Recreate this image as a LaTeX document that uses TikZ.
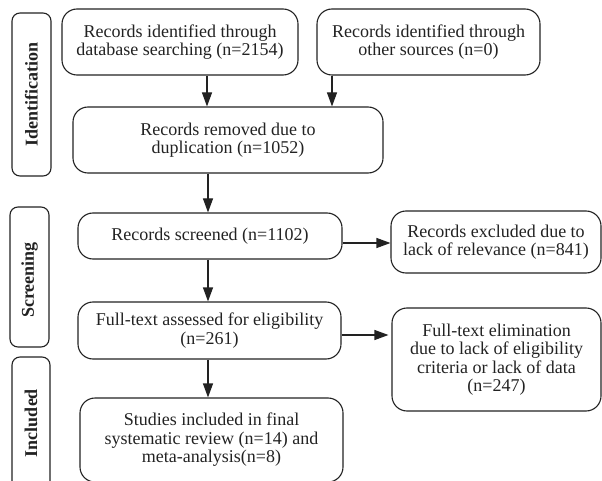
\documentclass[tikz,border=0pt]{standalone}
\usepackage{fontspec}
\setmainfont{Liberation Serif}
\usetikzlibrary{arrows.meta}
\definecolor{ink}{HTML}{222222}
\tikzset{
  box/.style={draw=ink, line width=1.1pt, rounded corners=15pt, align=center, text=ink,
    inner sep=2pt, font=\fontsize{18}{18.5}\selectfont},
  side/.style={draw=ink, line width=1.1pt, rounded corners=8pt, inner sep=0pt},
  sidelabel/.style={rotate=90, text=ink, font=\fontsize{18}{18}\selectfont\bfseries},
  arr/.style={draw=ink, line width=1.1pt, -{Triangle[length=14pt,width=10pt]}}
}
\begin{document}
\begin{tikzpicture}[x=1pt,y=-1pt]
\useasboundingbox (0,0) rectangle (602,481);
\clip (0,0) rectangle (602,481);
% side boxes
\node[side, minimum width=39pt, minimum height=163pt] (idside) at (31.5,94.5) {};
\node[sidelabel] (idlab) at (idside.center) {Identification};
\node[side, minimum width=39pt, minimum height=140pt] (scside) at (29.5,277) {};
\node[sidelabel] (sclab) at (29.5,280) {Screening};
\node[side, minimum width=38pt, minimum height=150pt] (inside) at (31,432) {};
\node[sidelabel] (inlab) at (31,423) {Included};
% main boxes
\node[box, minimum width=236pt, minimum height=66pt] (db) at (180,42)
  {Records identified through\\database searching (n=2154)};
\node[box, minimum width=223pt, minimum height=66pt] (other) at (428.5,42)
  {Records identified through\\other sources (n=0)};
\node[box, minimum width=310pt, minimum height=66pt] (dup) at (228,140)
  {Records removed due to\\duplication (n=1052)};
\node[box, minimum width=264pt, minimum height=46pt] (scr) at (210,236)
  {Records screened (n=1102)};
\node[box, minimum width=210pt, minimum height=62pt] (ex1) at (496,242)
  {Records excluded due to\\lack of relevance (n=841)};
\node[box, minimum width=263pt, minimum height=57pt] (full) at (209.5,330.5)
  {Full-text assessed for eligibility\\(n=261)};
\node[box, minimum width=209pt, minimum height=103pt] (ex2) at (496.5,359.5)
  {Full-text elimination\\due to lack of eligibility\\criteria or lack of data\\(n=247)};
\node[box, minimum width=263pt, minimum height=84pt] (stud) at (211.5,440)
  {Studies included in final\\systematic review (n=14) and\\meta-analysis(n=8)};
% arrow guides
\coordinate (xa) at (207,0);
\coordinate (xb) at (332,0);
\coordinate (xc) at (208,0);
\coordinate (ya) at (0,243);
\coordinate (yb) at (0,335);
\draw[arr] (db.south -| xa) -- (dup.north -| xa);
\draw[arr] (other.south -| xb) -- (dup.north -| xb);
\draw[arr] (dup.south -| xc) -- (scr.north -| xc);
\draw[arr] (scr.south -| xc) -- (full.north -| xc);
\draw[arr] (full.south -| xc) -- (stud.north -| xc);
\draw[arr] (scr.east |- ya) -- (ex1.west |- ya);
\draw[arr] (full.east |- yb) -- ([xshift=-3pt]ex2.west |- yb);
\end{tikzpicture}
\end{document}
